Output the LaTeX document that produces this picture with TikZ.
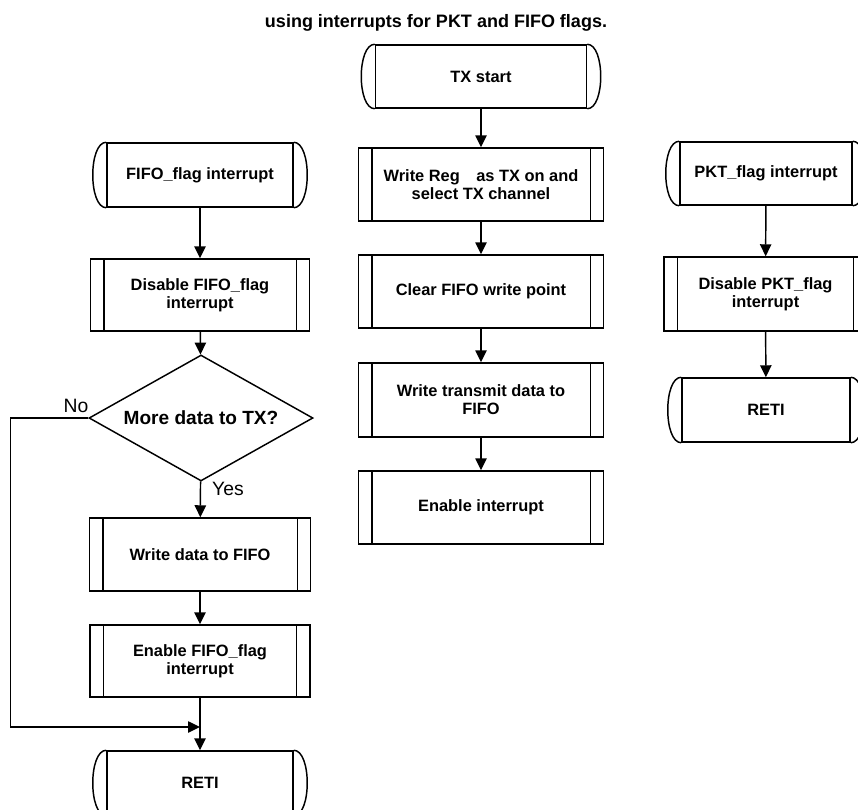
\documentclass[tikz,border=0pt]{standalone}
\usepackage{fontspec}
\setmainfont{Liberation Sans}
\usetikzlibrary{shapes.geometric,arrows.meta,calc}
\tikzset{
  every node/.style={font=\bfseries\fontsize{12.3}{13.4}\selectfont},
  sz/.style 2 args={minimum width=#1*0.75pt, minimum height=#2*0.75pt},
  proc/.style={draw, line width=1.1pt, inner sep=0pt, align=center},
  term/.style={draw, line width=1.1pt, inner sep=0pt, align=center},
  decision/.style={draw, diamond, aspect=1.78, inner sep=0pt, line width=1.1pt,
    font=\bfseries\fontsize{14.3}{16}\selectfont},
  lbl/.style={font=\fontsize{14.5}{16}\selectfont},
  titlefont/.style={font=\bfseries\fontsize{13.5}{15}\selectfont},
  arr/.style={line width=1.1pt, -{Triangle[length=9pt,width=8.5pt]}},
  ln/.style={line width=1.1pt},
}
\begin{document}
\begin{tikzpicture}[x=0.75pt,y=-0.75pt]
\useasboundingbox (0,0) rectangle (858,810);
\clip (0,0) rectangle (858,810);

\node[titlefont] (title) at (436,23) {using interrupts for PKT and FIFO flags.};

% left column
\node[term, sz={186}{64}] (fifoI) at (200,175) {FIFO\_flag interrupt};
\node[proc, sz={219}{72}] (disF) at (200,295) {Disable FIFO\_flag\\interrupt};
\node[decision, sz={224}{126}] (dec) at (201,418) {More data to TX?};
\node[proc, sz={221}{73}] (wdF) at (200,554.5) {Write data to FIFO};
\node[proc, sz={220}{72}] (enF) at (200,661) {Enable FIFO\_flag\\interrupt};
\node[term, sz={186}{64}] (reti1) at (200,783) {RETI};
\node[lbl] (no) at (76,406) {No};
\node[lbl] (yes) at (228,489) {Yes};
\coordinate (merge) at (200,727);

% center column
\node[term, sz={211}{63}] (txs) at (481,76.5) {TX start};
\node[proc, sz={245}{73}] (wreg) at (481,184.5) {Write Reg\quad as TX on and\\select TX channel};
\node[proc, sz={245}{73}] (clr) at (481,291.5) {Clear FIFO write point};
\node[proc, sz={245}{74}] (wtx) at (481,400) {Write transmit data to\\FIFO};
\node[proc, sz={245}{73}] (enI) at (481,507.5) {Enable interrupt};

% right column
\node[term, sz={172}{63}] (pktI) at (766,173.5) {PKT\_flag interrupt};
\node[proc, sz={203}{74}] (disP) at (765.5,294) {Disable PKT\_flag\\interrupt};
\node[term, sz={168}{64}] (reti2) at (766,410) {RETI};

% process inner lines
\foreach \n in {disF,wdF,enF,wreg,clr,wtx,enI,disP}
  \draw[ln] ($(\n.north west)+(14,0)$) -- ($(\n.south west)+(14,0)$)
            ($(\n.north east)+(-14,0)$) -- ($(\n.south east)+(-14,0)$);

% terminal end arcs
\foreach \n in {txs,fifoI,pktI,reti1,reti2}
  \draw[ln] (\n.north west) .. controls +(-18,0) and +(-18,0) .. (\n.south west)
            (\n.north east) .. controls +(18,0) and +(18,0) .. (\n.south east);

% connectors
\draw[arr] (fifoI) -- (disF);
\draw[arr] (disF) -- (dec);
\draw[arr] (dec) -- (wdF);
\draw[arr] (wdF) -- (enF);
\draw[arr] (enF) -- (reti1);
\draw[arr] (dec.west) -- ++(-78,0) |- (merge);

\draw[arr] (txs) -- (wreg);
\draw[arr] (wreg) -- (clr);
\draw[arr] (clr) -- (wtx);
\draw[arr] (wtx) -- (enI);

\draw[arr] (pktI) -- (disP);
\draw[arr] (disP) -- (reti2);
\end{tikzpicture}
\end{document}
